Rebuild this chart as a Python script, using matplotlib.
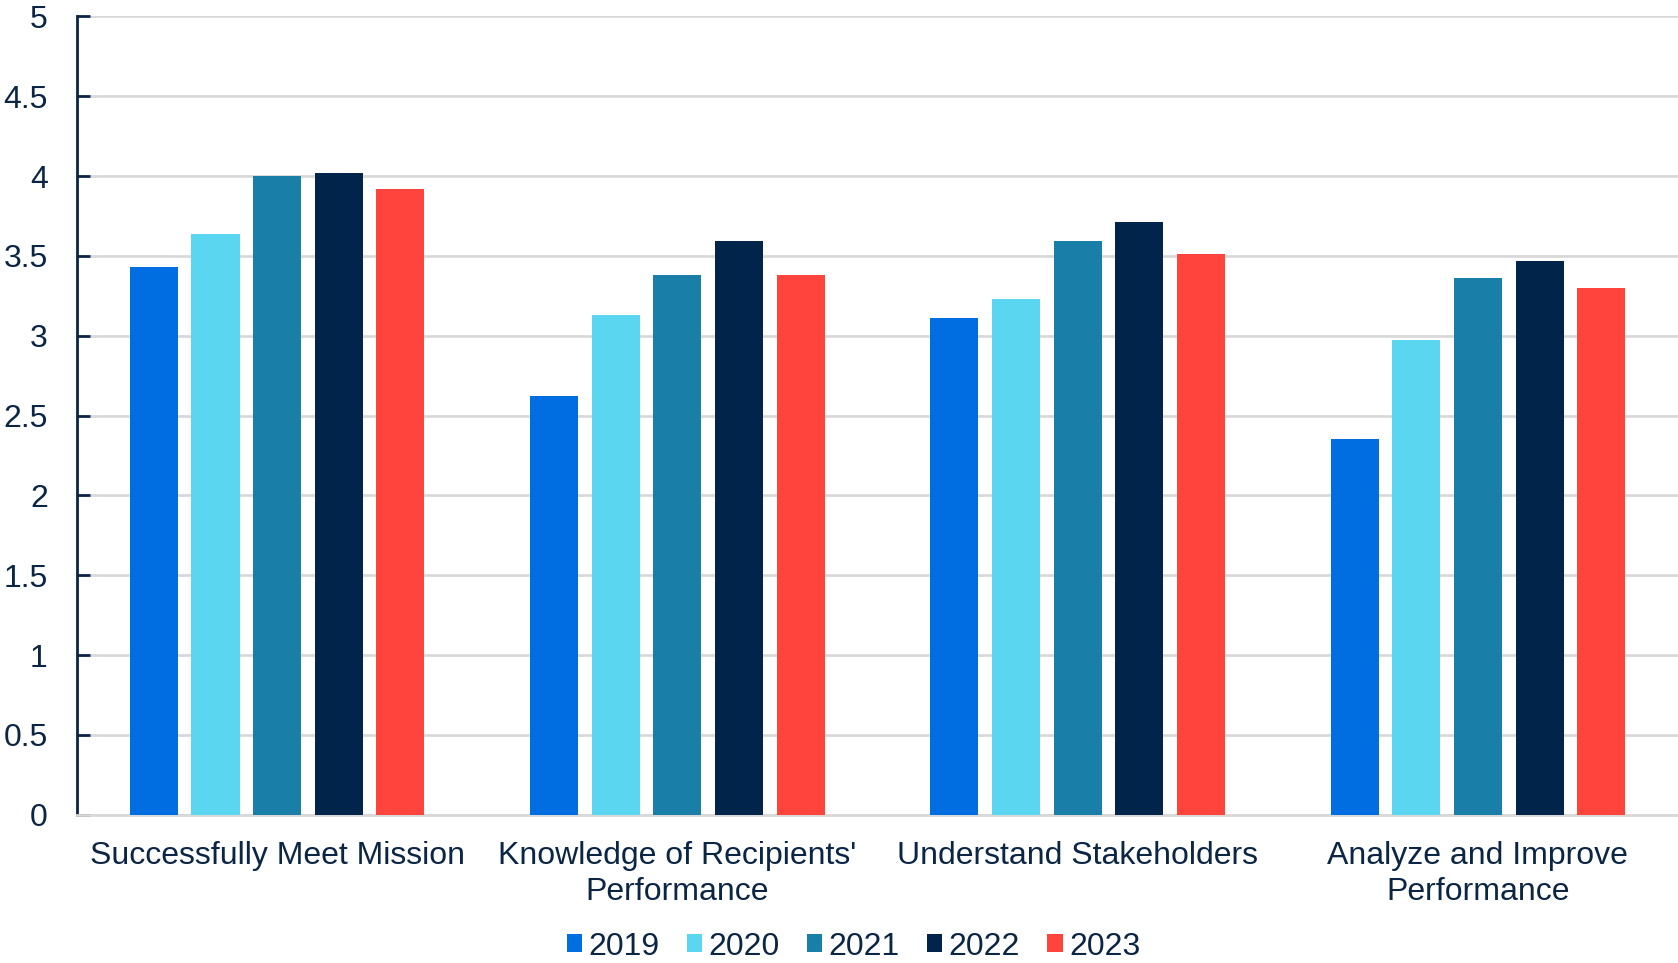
"""Grouped bar chart of scores by year"""

import matplotlib.pyplot as plt
import numpy as np

plt.rcParams["font.family"] = ["Liberation Sans", "DejaVu Sans"]

TEXT = "#0B2545"

categories = [
    "Successfully Meet Mission",
    "Knowledge of Recipients'\nPerformance",
    "Understand Stakeholders",
    "Analyze and Improve\nPerformance",
]
years = ["2019", "2020", "2021", "2022", "2023"]
scores = {
    "2019": [3.43, 2.62, 3.11, 2.35],
    "2020": [3.64, 3.13, 3.23, 2.97],
    "2021": [4.00, 3.38, 3.59, 3.36],
    "2022": [4.02, 3.59, 3.71, 3.47],
    "2023": [3.92, 3.38, 3.51, 3.30],
}
colors = ["#006EE0", "#5BD6F0", "#1A7FA8", "#00244A", "#FF433D"]

x = np.arange(len(categories))
width = 0.12
step = 0.154

fig = plt.figure(figsize=(16.78, 9.63), dpi=100)
ax = fig.add_axes([0.0459, 0.154, 0.9541, 0.829])

for i, (yr, col) in enumerate(zip(years, colors)):
    ax.bar(x + (i - 2) * step, scores[yr], width, color=col, label=yr, zorder=3)

ax.set_xlim(-0.5, 3.5)
ax.set_ylim(0, 5)
ax.set_yticks(np.arange(0, 5.01, 0.5))
ax.set_yticklabels(["0", "0.5", "1", "1.5", "2", "2.5", "3", "3.5", "4", "4.5", "5"])
ax.yaxis.grid(True, color="#D9D9D9", linewidth=2, zorder=0)

ax.set_xticks(x)
ax.set_xticklabels(categories, fontsize=23, color=TEXT, linespacing=1.25)
ax.tick_params(axis="x", length=0, pad=19)
ax.tick_params(axis="y", direction="in", length=9, width=2, color=TEXT,
               labelsize=23, labelcolor=TEXT, pad=21)

for s in ["top", "right"]:
    ax.spines[s].set_visible(False)
ax.spines["left"].set_color(TEXT)
ax.spines["left"].set_linewidth(2)
ax.spines["bottom"].set_color("#D9D9D9")
ax.spines["bottom"].set_linewidth(2)

ax.legend(loc="lower center", bbox_to_anchor=(0.485, -0.212), ncol=5, frameon=False,
          fontsize=23, labelcolor=TEXT, handlelength=0.48, handleheight=0.48,
          handletextpad=0.2, columnspacing=0.85, borderpad=0.2)

fig.savefig("out.png", dpi=100)
